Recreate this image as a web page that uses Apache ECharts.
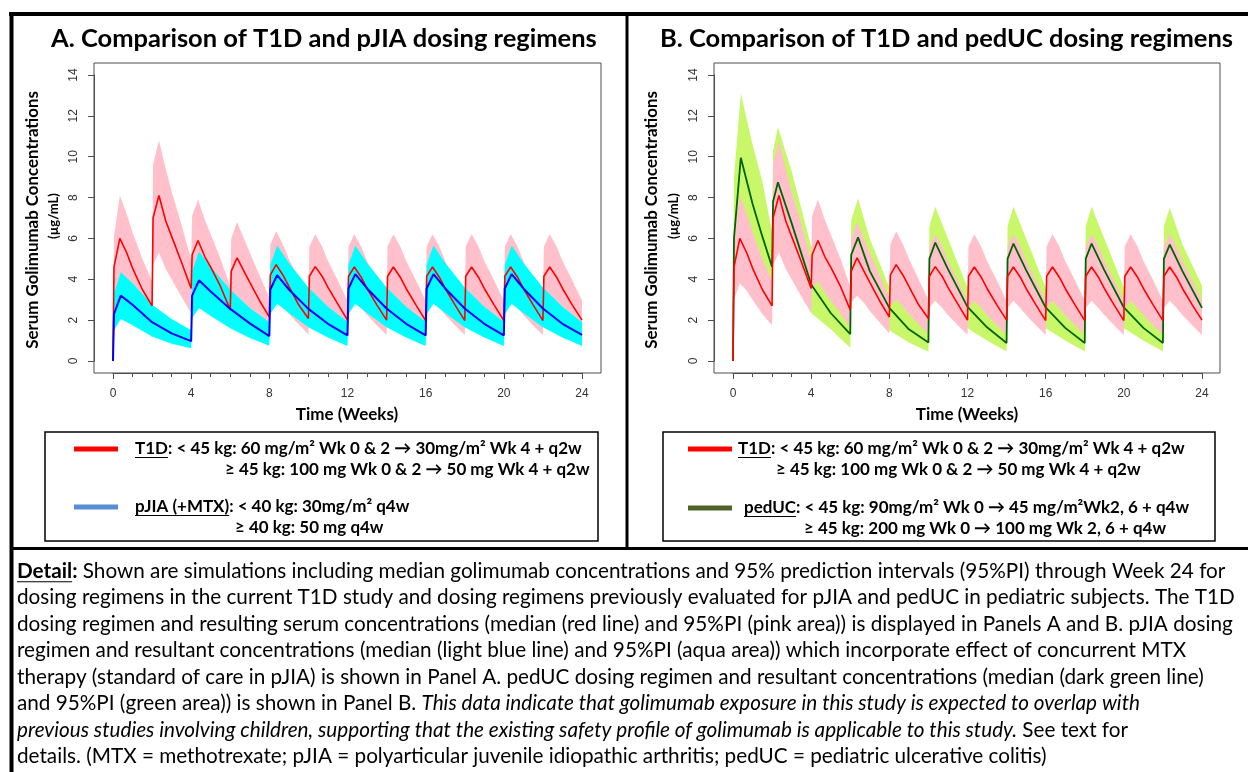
<!DOCTYPE html>
<html>
<head>
<meta charset="utf-8">
<script src="https://cdn.jsdelivr.net/npm/echarts@6/dist/echarts.min.js"></script>
<style>
  html, body { margin: 0; padding: 0; background: #fff; }
  #chart { width: 1248px; height: 772px; }
</style>
</head>
<body>
<div id="chart"></div>
<script>
//== Values (weeks / ug/mL)

// T1D regimen (red line, pink 95%PI)
var t1dWeeks = [
    0, 0.05, 0.35, 0.7, 1, 1.5,
    2, 2.05, 2.35, 2.7, 3, 3.5,
    4, 4.05, 4.35, 4.7, 5, 5.5,
    6, 6.05, 6.35, 6.7, 7, 7.5,
    8, 8.05, 8.35, 8.7, 9, 9.5,
    10, 10.05, 10.35, 10.7, 11, 11.5,
    12, 12.05, 12.35, 12.7, 13, 13.5,
    14, 14.05, 14.35, 14.7, 15, 15.5,
    16, 16.05, 16.35, 16.7, 17, 17.5,
    18, 18.05, 18.35, 18.7, 19, 19.5,
    20, 20.05, 20.35, 20.7, 21, 21.5,
    22, 22.05, 22.35, 22.7, 23, 23.5,
    24
];
var t1dMedian = [
    0, 4.6, 6.0, 5.3, 4.55, 3.5,
    2.7, 7.0, 8.1, 6.85, 6.1, 4.85,
    3.55, 5.2, 5.9, 5.1, 4.6, 3.65,
    2.5, 4.4, 5.05, 4.4, 3.85, 2.95,
    2.15, 4.2, 4.72, 4.2, 3.65, 2.75,
    2.08, 4.15, 4.62, 4.15, 3.6, 2.8,
    2.0, 4.15, 4.6, 4.1, 3.55, 2.75,
    2.0, 4.15, 4.6, 4.1, 3.55, 2.75,
    1.98, 4.15, 4.6, 4.1, 3.55, 2.75,
    1.98, 4.15, 4.6, 4.1, 3.55, 2.75,
    1.98, 4.15, 4.6, 4.1, 3.55, 2.75,
    1.98, 4.15, 4.6, 4.1, 3.55, 2.75,
    2.0
];
var t1dLow = [
    0, 3.0, 3.8, 3.45, 3.0, 2.3,
    1.75, 4.7, 5.3, 4.5, 4.0, 3.15,
    2.35, 3.5, 3.9, 3.35, 2.95, 2.35,
    1.6, 2.85, 3.2, 2.85, 2.45, 1.9,
    1.35, 2.7, 3.0, 2.65, 2.3, 1.8,
    1.3, 2.6, 2.95, 2.6, 2.25, 1.75,
    1.27, 2.6, 2.95, 2.6, 2.25, 1.75,
    1.27, 2.6, 2.95, 2.6, 2.25, 1.75,
    1.27, 2.6, 2.95, 2.6, 2.25, 1.75,
    1.27, 2.6, 2.95, 2.6, 2.25, 1.75,
    1.27, 2.6, 2.95, 2.6, 2.25, 1.75,
    1.27, 2.6, 2.95, 2.6, 2.25, 1.75,
    1.27
];
var t1dHigh = [
    0, 6.1, 8.1, 7.2, 6.3, 5.0,
    3.9, 9.6, 10.8, 9.4, 8.3, 6.7,
    4.95, 7.1, 7.9, 6.9, 6.2, 5.0,
    3.65, 6.0, 6.8, 6.0, 5.3, 4.2,
    3.1, 5.7, 6.35, 5.7, 5.0, 4.0,
    3.0, 5.6, 6.2, 5.6, 4.9, 3.95,
    2.95, 5.6, 6.2, 5.6, 4.9, 3.95,
    2.95, 5.6, 6.2, 5.6, 4.9, 3.95,
    2.95, 5.6, 6.2, 5.6, 4.9, 3.95,
    2.95, 5.6, 6.2, 5.6, 4.9, 3.95,
    2.95, 5.6, 6.2, 5.6, 4.9, 3.95,
    2.95, 5.6, 6.2, 5.6, 4.9, 3.95,
    2.95
];

// pJIA (+MTX) regimen (blue line, cyan 95%PI)
var pjiaWeeks = [
    0, 0.05, 0.4, 1, 2, 3,
    4, 4.05, 4.4, 5, 6, 7,
    8, 8.05, 8.4, 9, 10, 11,
    12, 12.05, 12.4, 13, 14, 15,
    16, 16.05, 16.4, 17, 18, 19,
    20, 20.05, 20.4, 21, 22, 23,
    24
];
var pjiaMedian = [
    0, 2.3, 3.2, 2.75, 1.9, 1.35,
    0.97, 3.2, 3.95, 3.4, 2.55, 1.84,
    1.22, 3.5, 4.2, 3.5, 2.55, 1.82,
    1.25, 3.55, 4.25, 3.55, 2.57, 1.82,
    1.25, 3.55, 4.25, 3.55, 2.57, 1.82,
    1.25, 3.55, 4.25, 3.55, 2.57, 1.82,
    1.28
];
var pjiaLow = [
    0, 1.5, 2.05, 1.75, 1.2, 0.85,
    0.62, 2.1, 2.6, 2.2, 1.6, 1.12,
    0.75, 2.3, 2.8, 2.35, 1.65, 1.15,
    0.73, 2.3, 2.8, 2.35, 1.65, 1.15,
    0.73, 2.3, 2.8, 2.35, 1.65, 1.15,
    0.73, 2.3, 2.8, 2.35, 1.65, 1.15,
    0.73
];
var pjiaHigh = [
    0, 3.3, 4.35, 3.8, 2.75, 2.05,
    1.5, 4.4, 5.35, 4.6, 3.5, 2.6,
    1.9, 4.7, 5.65, 4.8, 3.6, 2.65,
    1.92, 4.7, 5.65, 4.8, 3.6, 2.65,
    1.92, 4.7, 5.65, 4.8, 3.6, 2.65,
    1.92, 4.7, 5.65, 4.8, 3.6, 2.65,
    1.9
];

// pedUC regimen (dark green line, light green 95%PI)
var peducWeeks = [
    0, 0.05, 0.4, 1, 1.5,
    2, 2.05, 2.3, 3, 4, 5,
    6, 6.05, 6.4, 7, 8, 9,
    10, 10.05, 10.35, 11, 12, 13,
    14, 14.05, 14.35, 15, 16, 17,
    18, 18.05, 18.35, 19, 20, 21,
    22, 22.05, 22.35, 23, 24
];
var peducMedian = [
    0, 6.0, 9.95, 7.7, 6.1,
    4.6, 7.8, 8.75, 6.75, 3.75, 2.35,
    1.32, 5.2, 6.05, 4.4, 2.6, 1.55,
    0.9, 5.0, 5.8, 4.5, 2.65, 1.65,
    0.88, 5.0, 5.75, 4.45, 2.62, 1.62,
    0.88, 5.0, 5.75, 4.45, 2.62, 1.62,
    0.88, 5.0, 5.7, 4.4, 2.6
];
var peducLow = [
    0, 3.5, 6.3, 5.0, 4.0,
    3.0, 5.0, 5.7, 4.4, 2.35, 1.55,
    0.65, 3.0, 3.9, 2.9, 1.5, 0.9,
    0.45, 3.1, 3.7, 2.9, 1.6, 1.0,
    0.46, 3.1, 3.7, 2.9, 1.6, 1.0,
    0.46, 3.1, 3.7, 2.9, 1.6, 1.0,
    0.46, 3.1, 3.7, 2.85, 1.6
];
var peducHigh = [
    0, 9.0, 13.1, 10.6, 8.8,
    6.3, 10.3, 11.45, 9.3, 5.6, 3.6,
    2.1, 6.9, 7.95, 6.0, 3.6, 2.3,
    1.4, 6.6, 7.55, 6.0, 3.6, 2.4,
    1.45, 6.6, 7.55, 6.0, 3.6, 2.4,
    1.45, 6.6, 7.55, 6.0, 3.6, 2.4,
    1.45, 6.6, 7.5, 5.7, 3.7
];

//== Colours
var RED = '#ff0000', PINK = '#ffc0cb';
var BLUE = '#0000ff', CYAN = '#00ffff';
var DKGREEN = '#006400', LTGREEN = '#c8f86a';
var AXIS = '#4d4d4d';
var FONT = 'Lato, "DejaVu Sans", sans-serif';
var TICKFONT = '"Liberation Sans", Arial, sans-serif';

//== helpers
var measureCtx = document.createElement('canvas').getContext('2d');
function textWidth(text, size, weight, style) {
    measureCtx.font = (style || 'normal') + ' ' + (weight || 'normal') + ' ' + size + 'px ' + FONT;
    return measureCtx.measureText(text).width;
}
function fitSize(text, width, weight) {
    return 20 * width / textWidth(text, 20, weight);
}
function pairs(weeks, values) {
    return weeks.map(function (w, i) { return [w, values[i]]; });
}

// 95%PI drawn as one polygon (high forward, low back) through the axis scales
function band(idx, weeks, low, high, color) {
    return {
        type: 'custom', xAxisIndex: idx, yAxisIndex: idx, silent: true,
        data: weeks.map(function (w, i) { return [w, low[i], high[i]]; }),
        encode: { x: 0, y: [1, 2] },
        renderItem: function (params, api) {
            if (params.dataIndex !== 0) return null;
            var pts = [], i;
            for (i = 0; i < weeks.length; i++) pts.push(api.coord([weeks[i], high[i]]));
            for (i = weeks.length - 1; i >= 0; i--) pts.push(api.coord([weeks[i], low[i]]));
            return { type: 'polygon', shape: { points: pts }, style: { fill: color } };
        }
    };
}
function median(idx, weeks, values, color, width) {
    return {
        type: 'line', xAxisIndex: idx, yAxisIndex: idx,
        symbol: 'none', silent: true,
        lineStyle: { color: color, width: width },
        data: pairs(weeks, values)
    };
}

//== axes
var xAxes = [0, 1].map(function (i) {
    return {
        gridIndex: i, type: 'value', min: 0, max: 24, interval: 4, offset: 12,
        axisLine: { show: true, onZero: false, lineStyle: { color: AXIS, width: 1 } },
        axisTick: { show: true, length: 6, lineStyle: { color: AXIS } },
        minorTick: { show: true, splitNumber: 4, length: 4, lineStyle: { color: AXIS } },
        splitLine: { show: false },
        axisLabel: { margin: 15, fontSize: 12, color: '#333', fontFamily: TICKFONT }
    };
});
var yAxes = [0, 1].map(function (i) {
    return {
        gridIndex: i, type: 'value', min: 0, max: 14, interval: 2, offset: 19,
        axisLine: { show: true, onZero: false, lineStyle: { color: AXIS, width: 1 } },
        axisTick: { show: true, length: 6, lineStyle: { color: AXIS } },
        splitLine: { show: false },
        axisLabel: { margin: 14, rotate: 90, fontSize: 12, color: '#333', fontFamily: TICKFONT }
    };
});

//== series
var series = [
    band(0, t1dWeeks, t1dLow, t1dHigh, PINK),
    band(0, pjiaWeeks, pjiaLow, pjiaHigh, CYAN),
    median(0, t1dWeeks, t1dMedian, RED, 1.6),
    median(0, pjiaWeeks, pjiaMedian, BLUE, 2),
    band(1, peducWeeks, peducLow, peducHigh, LTGREEN),
    band(1, t1dWeeks, t1dLow, t1dHigh, PINK),
    median(1, peducWeeks, peducMedian, DKGREEN, 1.8),
    median(1, t1dWeeks, t1dMedian, RED, 1.6)
];

//== graphic elements (frame, titles, legends, detail text)
var graphic = [];

function line(x1, y1, x2, y2, w, color) {
    graphic.push({ type: 'line', silent: true, shape: { x1: x1, y1: y1, x2: x2, y2: y2 },
        style: { stroke: color || '#000', lineWidth: w } });
}
function rect(x, y, w, h, lw, color) {
    graphic.push({ type: 'rect', silent: true, shape: { x: x, y: y, width: w, height: h },
        style: { fill: 'none', stroke: color, lineWidth: lw } });
}
function text(x, y, str, size, opts) {
    opts = opts || {};
    graphic.push({
        type: 'text', silent: true, x: x, y: y, rotation: opts.rotation || 0,
        style: {
            text: str, fontSize: size, fontFamily: FONT,
            fontWeight: opts.weight || 'normal', fill: '#000',
            textAlign: opts.align || 'left', textVerticalAlign: 'middle',
            rich: opts.rich
        }
    });
}

// outer frame
line(9, 14, 1248, 14, 4);
line(11.5, 12, 11.5, 772, 4);
line(627, 14, 627, 548, 3);
line(10, 548.5, 1248, 548.5, 3);

// plot boxes
rect(94, 63, 507, 310, 1, AXIS);
rect(714, 63, 506, 310, 1, AXIS);

// panel titles
var titleA = 'A. Comparison of T1D and pJIA dosing regimens';
var titleB = 'B. Comparison of T1D and pedUC dosing regimens';
var titleSize = fitSize(titleA, 546, 'bold');
text(51, 39, titleA, titleSize, { weight: 'bold' });
text(660, 39, titleB, titleSize, { weight: 'bold' });

// axis titles
var yTitle = 'Serum Golimumab Concentrations';
var yTitleSize = fitSize(yTitle, 258, 'bold');
[[33, 54, 347], [652, 674, 967]].forEach(function (p) {
    text(p[0], 220, yTitle, yTitleSize, { weight: 'bold', align: 'center', rotation: Math.PI / 2 });
    text(p[1], 216, '(\u00b5g/mL)', 13, { weight: 'bold', align: 'center', rotation: Math.PI / 2 });
    text(p[2], 415, 'Time (Weeks)', 17, { weight: 'bold', align: 'center' });
});

// legend boxes
rect(45, 432, 553, 109, 1.5, '#000');
rect(663, 432, 552, 109, 1.5, '#000');
line(74, 449, 118, 449, 5, RED);
line(74, 507, 118, 507, 5, '#558ed5');
line(688, 449, 732, 449, 5, RED);
line(688, 508, 732, 508, 5, '#4f6228');

var legendLines = [
    [135, 449, 'T1D: < 45 kg: 60 mg/m\u00b2 Wk 0 & 2 \u2192 30mg/m\u00b2 Wk 4 + q2w', 'T1D'],
    [225, 470, '\u2265 45 kg: 100 mg Wk 0 & 2 \u2192 50 mg Wk 4 + q2w', ''],
    [135, 507, 'pJIA (+MTX): < 40 kg: 30mg/m\u00b2 q4w', 'pJIA (+MTX)'],
    [235, 528, '\u2265 40 kg: 50 mg q4w', ''],
    [738, 449, 'T1D: < 45 kg: 60 mg/m\u00b2 Wk 0 & 2 \u2192 30mg/m\u00b2 Wk 4 + q2w', 'T1D'],
    [776, 470, '\u2265 45 kg: 100 mg Wk 0 & 2 \u2192 50 mg Wk 4 + q2w', ''],
    [744, 508, 'pedUC: < 45 kg: 90mg/m\u00b2 Wk 0 \u2192 45 mg/m\u00b2Wk2, 6 + q4w', 'pedUC'],
    [804, 529, '\u2265 45 kg: 200 mg Wk 0 \u2192 100 mg Wk 2, 6 + q4w', '']
];
var legendSize = fitSize(legendLines[0][2], 447, 'bold');
legendLines.forEach(function (l) {
    text(l[0], l[1], l[2], legendSize, { weight: 'bold' });
    if (l[3]) {
        var uy = l[1] + legendSize * 0.5;
        line(l[0], uy, l[0] + textWidth(l[3], legendSize, 'bold'), uy, 1.2);
    }
});

// detail paragraph
var detailLines = [
    '{b|Detail:} Shown are simulations including median golimumab concentrations and 95% prediction intervals (95%PI) through Week 24 for',
    'dosing regimens in the current T1D study and dosing regimens previously evaluated for pJIA and pedUC in pediatric subjects. The T1D',
    'dosing regimen and resulting serum concentrations (median (red line) and 95%PI (pink area)) is displayed in Panels A and B. pJIA dosing',
    'regimen and resultant concentrations (median (light blue line) and 95%PI (aqua area)) which incorporate effect of concurrent MTX',
    'therapy (standard of care in pJIA) is shown in Panel A. pedUC dosing regimen and resultant concentrations (median (dark green line)',
    'and 95%PI (green area)) is shown in Panel B. {i|This data indicate that golimumab exposure in this study is expected to overlap with}',
    '{i|previous studies involving children, supporting that the existing safety profile of golimumab is applicable to this study.} See text for',
    'details. (MTX = methotrexate; pJIA = polyarticular juvenile idiopathic arthritis; pedUC = pediatric ulcerative colitis)'
];
var detailSize = fitSize(detailLines[0].replace('{b|', '').replace('}', ''), 1208);
var detailRich = {
    b: { fontWeight: 'bold', fontSize: detailSize, fontFamily: FONT, fill: '#000' },
    i: { fontStyle: 'italic', fontSize: detailSize, fontFamily: FONT, fill: '#000' }
};
detailLines.forEach(function (s, i) {
    text(17, 571 + 26.5 * i, s, detailSize, { rich: detailRich });
});
var dy = 571 + detailSize * 0.52;
line(17, dy, 17 + textWidth('Detail', detailSize, 'bold'), dy, 1.2);

//== chart
var chart = echarts.init(document.getElementById('chart'));
chart.setOption({
    animation: false,
    backgroundColor: '#fff',
    grid: [
        { left: 113, top: 75, width: 469, height: 286, outerBoundsMode: 'none' },
        { left: 733, top: 75, width: 469, height: 286, outerBoundsMode: 'none' }
    ],
    xAxis: xAxes,
    yAxis: yAxes,
    series: series,
    graphic: graphic
});
</script>
</body>
</html>
